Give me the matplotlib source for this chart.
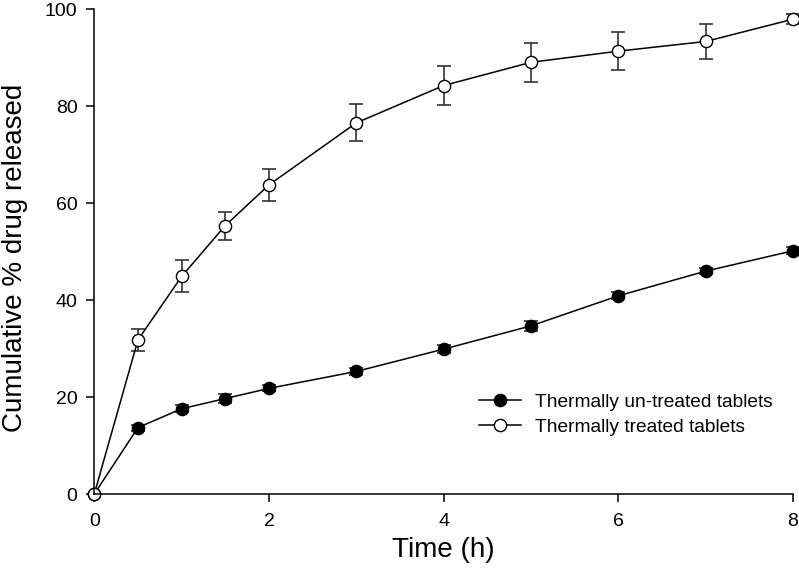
import matplotlib
matplotlib.use("Agg")
import matplotlib.pyplot as plt
from matplotlib.lines import Line2D

plt.rcParams['font.family'] = ['Liberation Sans', 'DejaVu Sans']

# time points (h)
time_h = [0, 0.5, 1, 1.5, 2, 3, 4, 5, 6, 7, 8]

# thermally un-treated tablets
untreated = [0, 13.7, 17.6, 19.7, 21.8, 25.3, 29.9, 34.7, 40.9, 46.0, 50.2]
untreated_err = [0, 0.6, 0.7, 0.9, 0.6, 0.7, 0.9, 1.0, 0.7, 0.6, 0.7]

# thermally treated tablets
treated = [0, 31.8, 44.9, 55.4, 63.8, 76.6, 84.3, 89.1, 91.4, 93.4, 98.0]
treated_err = [0, 2.2, 3.3, 2.9, 3.3, 3.8, 4.1, 4.0, 3.9, 3.6, 1.0]

labels = ["Thermally un-treated tablets", "Thermally treated tablets"]

fig = plt.figure(figsize=(7.99, 5.79), dpi=100)
ax = fig.add_axes([0.118, 0.1468, 0.8745, 0.8368])

common = dict(color="black", ecolor="#333333", elinewidth=1.2, capsize=5.3,
              capthick=1.2, markersize=8.8, linewidth=1.1, clip_on=False)

ax.errorbar(time_h, untreated, yerr=untreated_err, fmt="-o",
            markerfacecolor="black", markeredgecolor="black", **common)
ax.errorbar(time_h, treated, yerr=treated_err, fmt="-o",
            markerfacecolor="white", markeredgecolor="black", **common)

ax.set_xlim(0, 8)
ax.set_ylim(0, 100)
ax.set_xticks([0, 2, 4, 6, 8])
ax.set_yticks([0, 20, 40, 60, 80, 100])

for side in ["top", "right"]:
    ax.spines[side].set_visible(False)
for side in ["left", "bottom"]:
    ax.spines[side].set_linewidth(1.1)

ax.tick_params(direction="out", length=6, width=1.1, labelsize=14)
ax.tick_params(axis="x", pad=8)
ax.tick_params(axis="y", pad=6)
ax.set_xlabel("Time (h)", fontsize=20, labelpad=5)
ax.set_ylabel("Cumulative % drug released", fontsize=20)
ax.yaxis.set_label_coords(-0.095, 0.488)

# legend handles without the error bars
handles = [
    Line2D([], [], color="black", lw=1.1, marker="o", markersize=8.8,
           markerfacecolor="black", markeredgecolor="black"),
    Line2D([], [], color="black", lw=1.1, marker="o", markersize=8.8,
           markerfacecolor="white", markeredgecolor="black"),
]
ax.legend(handles, labels, loc="lower right", bbox_to_anchor=(0.985, 0.1),
          frameon=False, fontsize=13.8, handlelength=2.2, handletextpad=0.75,
          labelspacing=0.42, borderpad=0)

fig.savefig("out.png", dpi=100)
